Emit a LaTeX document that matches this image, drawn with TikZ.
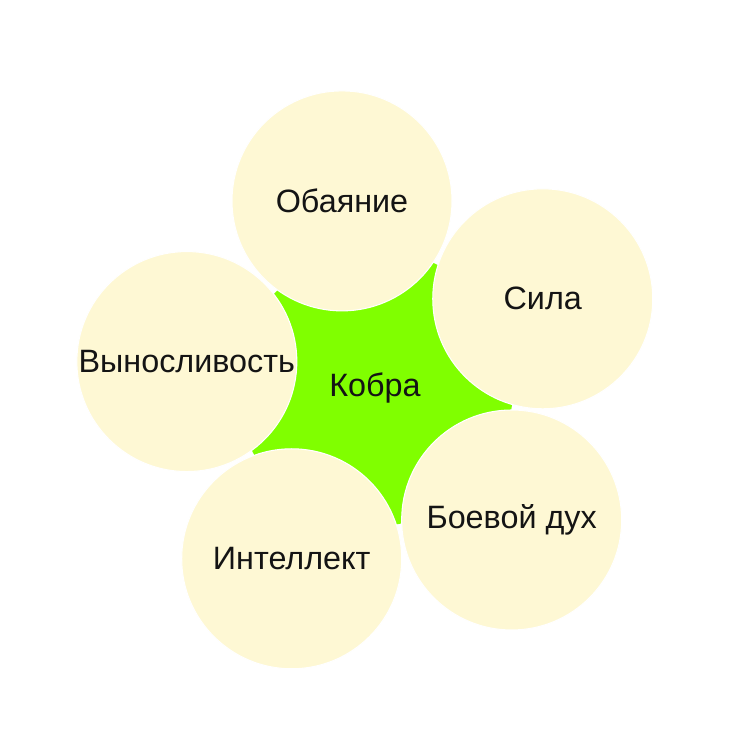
\documentclass[tikz,border=0pt]{standalone}
\usepackage{fontspec}
\setmainfont{Liberation Sans}
\usepackage{tikz}

\definecolor{petalfill}{HTML}{FEF8D4}
\definecolor{kobragreen}{HTML}{80FF00}
\definecolor{textink}{HTML}{141414}

\tikzset{
    petal/.style = {circle, fill = petalfill, draw = white, line width = 0.6pt,
                    minimum size = 4.4cm, inner sep = 0pt,
                    label = {[text = textink, font = \fontsize{18.4pt}{21pt}\selectfont]center:#1}},
    core/.style = {circle, fill = kobragreen, minimum size = 5.52cm, inner sep = 0pt,
                   text = textink, font = \fontsize{18.4pt}{21pt}\selectfont}
}

\begin{document}
\begin{tikzpicture}
        \useasboundingbox[fill = white] (-7.5,7.76) rectangle (7.1,-7.18);
        % green core under the petals
        \node[core] (kobra) at (0,0) {Кобра};
        % five petals around it
        \node[petal = Обаяние] (obayanie) at (100:3.8) {};
        \node[petal = Сила] (sila) at (28:3.8) {};
        \node[petal = Боевой дух] (boevoy) at (-44:3.8) {};
        \node[petal = Интеллект] (intellekt) at (-116:3.8) {};
        \node[petal = Выносливость] (vynoslivost) at (172:3.8) {};
    \end{tikzpicture}
\end{document}
